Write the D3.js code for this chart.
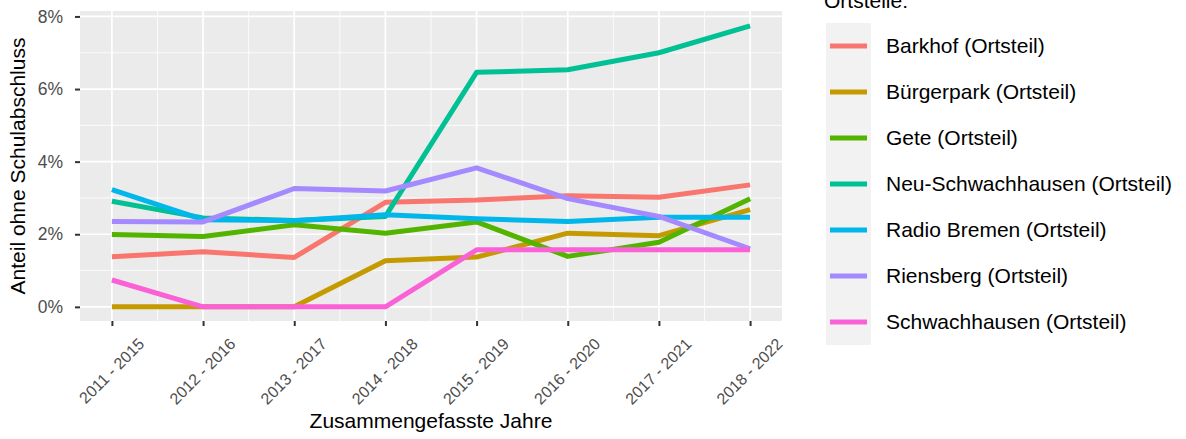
<!DOCTYPE html>
<html>
<head>
<meta charset="utf-8">
<script src="https://cdn.jsdelivr.net/npm/d3@7"></script>
<style>
  body { margin: 0; background: #fff; }
  svg { font-family: "Liberation Sans", Arial, sans-serif; }
</style>
</head>
<body>
<svg id="chart" width="1186" height="439"></svg>
<script>
const periods = ["2011 - 2015", "2012 - 2016", "2013 - 2017", "2014 - 2018",
    "2015 - 2019", "2016 - 2020", "2017 - 2021", "2018 - 2022"];
const districts = ["Barkhof (Ortsteil)", "Bürgerpark (Ortsteil)", "Gete (Ortsteil)",
    "Neu-Schwachhausen (Ortsteil)", "Radio Bremen (Ortsteil)", "Riensberg (Ortsteil)",
    "Schwachhausen (Ortsteil)"];
const colors = ["#F8766D", "#C49A00", "#53B400", "#00C094", "#00B6EB", "#A58AFF", "#FB61D7"];

// Anteil ohne Schulabschluss in %
const barkhof = [1.38, 1.52, 1.36, 2.88, 2.94, 3.06, 3.02, 3.36];
const buergerpark = [0, 0, 0, 1.27, 1.37, 2.03, 1.96, 2.68];
const gete = [1.99, 1.94, 2.26, 2.03, 2.34, 1.39, 1.78, 2.98];
const neuSchwachhausen = [2.91, 2.45, 2.38, 2.49, 6.46, 6.53, 7.0, 7.74];
const radioBremen = [3.23, 2.40, 2.37, 2.54, 2.43, 2.35, 2.47, 2.47];
const riensberg = [2.35, 2.34, 3.26, 3.19, 3.83, 2.98, 2.49, 1.60];
const schwachhausen = [0.74, 0, 0, 0, 1.57, 1.57, 1.57, 1.57];
const yTicks = [0, 2, 4, 6, 8];

const seriesValues = [barkhof, buergerpark, gete, neuSchwachhausen, radioBremen, riensberg, schwachhausen];

const svg = d3.select("#chart");
const panel = { left: 80, right: 782, top: 11, bottom: 321 };

const xScale = d3.scalePoint()
    .domain(periods)
    .range([panel.left, panel.right])
    .padding(0.35);

const yScale = d3.scaleLinear()
    .domain([-0.39, 8.15])
    .range([panel.bottom, panel.top]);

// panel background
svg.append("rect")
    .attr("x", panel.left).attr("y", panel.top)
    .attr("width", panel.right - panel.left).attr("height", panel.bottom - panel.top)
    .attr("fill", "#EBEBEB");

// minor grid
const step = xScale.step();
const xMinor = periods.slice(0, -1).map(p => xScale(p) + step / 2);
svg.append("g").selectAll("line").data(xMinor).join("line")
    .attr("x1", d => d).attr("x2", d => d)
    .attr("y1", panel.top).attr("y2", panel.bottom)
    .attr("stroke", "#fff").attr("stroke-width", 0.8);
svg.append("g").selectAll("line").data([1, 3, 5, 7]).join("line")
    .attr("x1", panel.left).attr("x2", panel.right)
    .attr("y1", d => yScale(d)).attr("y2", d => yScale(d))
    .attr("stroke", "#fff").attr("stroke-width", 0.8);

// major grid
svg.append("g").selectAll("line").data(periods).join("line")
    .attr("x1", d => xScale(d)).attr("x2", d => xScale(d))
    .attr("y1", panel.top).attr("y2", panel.bottom)
    .attr("stroke", "#fff").attr("stroke-width", 1.7);
svg.append("g").selectAll("line").data(yTicks).join("line")
    .attr("x1", panel.left).attr("x2", panel.right)
    .attr("y1", d => yScale(d)).attr("y2", d => yScale(d))
    .attr("stroke", "#fff").attr("stroke-width", 1.7);

// lines
const line = d3.line()
    .x((d, i) => xScale(periods[i]))
    .y(d => yScale(d));

seriesValues.forEach((vals, idx) => {
    svg.append("path")
        .datum(vals)
        .attr("fill", "none")
        .attr("stroke", colors[idx])
        .attr("stroke-width", 5)
        .attr("stroke-linejoin", "round")
        .attr("d", line);
});

// axes
const xAxis = d3.axisBottom(xScale).tickSize(5).tickPadding(4);
const gx = svg.append("g")
    .attr("transform", `translate(0, ${panel.bottom})`)
    .call(xAxis);
gx.select(".domain").remove();
gx.selectAll(".tick line").attr("stroke", "#333").attr("stroke-width", 2);
gx.selectAll(".tick text")
    .attr("fill", "#4D4D4D")
    .attr("font-size", "16px")
    .attr("text-anchor", "end")
    .attr("dy", null)
    .attr("y", 0)
    .attr("transform", "translate(33, 24) rotate(-45)");

const yAxis = d3.axisLeft(yScale).tickValues(yTicks).tickSize(5).tickPadding(12)
    .tickFormat(d => d + "%");
const gy = svg.append("g")
    .attr("transform", `translate(${panel.left}, 0)`)
    .call(yAxis);
gy.select(".domain").remove();
gy.selectAll(".tick line").attr("stroke", "#333").attr("stroke-width", 2);
gy.selectAll(".tick text")
    .attr("fill", "#4D4D4D")
    .attr("font-size", "17.5px");

// axis titles
svg.append("text")
    .attr("x", (panel.left + panel.right) / 2)
    .attr("y", 428)
    .attr("text-anchor", "middle")
    .attr("font-size", "21px")
    .attr("fill", "#000")
    .text("Zusammengefasste Jahre");

svg.append("text")
    .attr("transform", `translate(25, ${(panel.top + panel.bottom) / 2}) rotate(-90)`)
    .attr("text-anchor", "middle")
    .attr("font-size", "21px")
    .attr("fill", "#000")
    .text("Anteil ohne Schulabschluss");

// legend
const legend = svg.append("g");
legend.append("text")
    .attr("x", 824).attr("y", 8)
    .attr("font-size", "21px")
    .text("Ortsteile:");

const legY = d3.scalePoint().domain(districts).range([46, 322]);
legend.append("rect")
    .attr("x", 826).attr("y", 23)
    .attr("width", 45).attr("height", 322)
    .attr("fill", "#F2F2F2");

districts.forEach((name, idx) => {
    legend.append("line")
        .attr("x1", 830).attr("x2", 867)
        .attr("y1", legY(name)).attr("y2", legY(name))
        .attr("stroke", colors[idx]).attr("stroke-width", 5);
    legend.append("text")
        .attr("x", 886).attr("y", legY(name))
        .attr("dy", "0.35em")
        .attr("font-size", "21px")
        .attr("fill", "#000")
        .text(name);
});
</script>
</body>
</html>
